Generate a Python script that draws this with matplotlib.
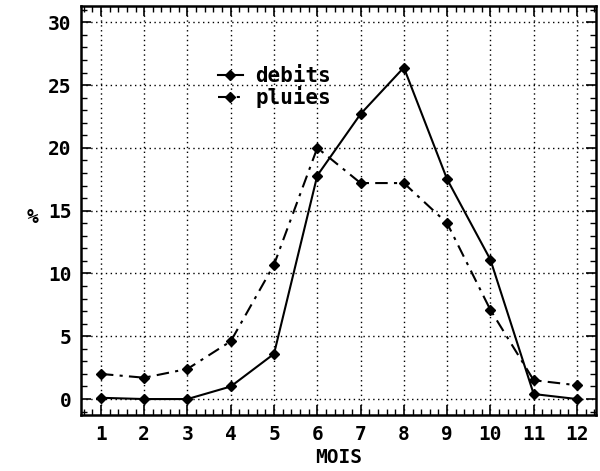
import matplotlib
matplotlib.use("Agg")
import matplotlib.pyplot as plt
from matplotlib.ticker import MultipleLocator

months = [1, 2, 3, 4, 5, 6, 7, 8, 9, 10, 11, 12]
debits = [0.1, 0.0, 0.0, 1.0, 3.6, 17.8, 22.7, 26.4, 17.5, 11.1, 0.4, 0.0]
pluies = [2.0, 1.7, 2.4, 4.6, 10.7, 20.0, 17.2, 17.2, 14.0, 7.1, 1.5, 1.1]

font = {"family": "DejaVu Sans Mono", "weight": "bold"}

fig = plt.figure(figsize=(6.0, 4.71), dpi=100)
ax = fig.add_axes([81/600, 1 - 415/471, (596-81)/600, (415-6)/471])

ax.plot(months, debits, color="black", lw=1.5, ls="-", marker="D", ms=5.5,
        label="debits")
ax.plot(months, pluies, color="black", lw=1.5, ls=(0, (6, 3, 1.5, 3)), marker="D", ms=5.5,
        label="pluies")

ax.set_xlim(0.54, 12.44)
ax.set_ylim(-1.27, 31.3)
ax.xaxis.set_major_locator(MultipleLocator(1))
ax.xaxis.set_minor_locator(MultipleLocator(0.2))
ax.yaxis.set_major_locator(MultipleLocator(5))
ax.yaxis.set_minor_locator(MultipleLocator(1))
ax.tick_params(which="both", direction="in", top=True, right=True, color="black")
ax.tick_params(which="major", length=7, width=1.2, pad=7)
ax.tick_params(which="minor", length=4, width=1.0)
ax.grid(True, which="major", color="black", ls=(0, (1, 2.5)), lw=1.0)
for s in ax.spines.values():
    s.set_linewidth(1.8)

for lab in ax.get_xticklabels() + ax.get_yticklabels():
    lab.set_fontfamily("DejaVu Sans Mono")
    lab.set_fontweight("bold")
    lab.set_fontsize(14)

ax.set_xlabel("MOIS", fontdict=font, fontsize=14, labelpad=3)
ax.set_ylabel("%", fontdict=font, fontsize=14, rotation=0)
ax.yaxis.set_label_coords(-0.095, 0.46)

leg = ax.legend(loc="upper left", bbox_to_anchor=(0.245, 0.878), frameon=False,
                handlelength=1.2, handletextpad=0.6, borderpad=0, labelspacing=0.0,
                prop={"family": "DejaVu Sans Mono", "weight": "bold", "size": 15})

fig.savefig("out.png", dpi=100)
